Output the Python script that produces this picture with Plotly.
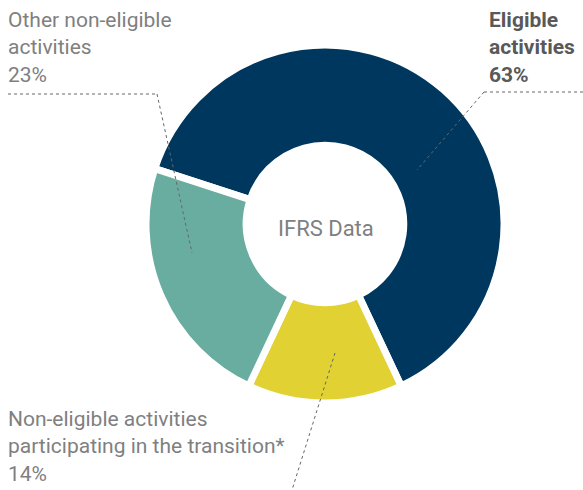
import plotly.graph_objects as go

W, H = 583, 490

labels = ["Eligible activities", "Non-eligible activities participating in the transition*", "Other non-eligible activities"]
values = [63, 14, 23]
colors = ["#00375f", "#e1d133", "#69ada1"]
center_label = "IFRS Data"

def px(x):
    return x / W

def py(y):
    return 1 - y / H

cx, cy, R = 325, 224, 179

fig = go.Figure()
fig.add_trace(go.Pie(
    labels=labels, values=values, sort=False, direction="clockwise",
    rotation=288, hole=0.44,
    marker=dict(colors=colors, line=dict(color="white", width=7)),
    textinfo="none", hoverinfo="label+percent", showlegend=False,
    domain=dict(x=[px(cx - R), px(cx + R)], y=[py(cy + R), py(cy - R)]),
))

font_family = "Roboto, 'Open Sans', sans-serif"
grey = "#808080"

annotations = [
    dict(x=px(6), y=py(6), xanchor="left", yanchor="top", align="left",
         text=f"{labels[2].replace(' activities','<br>activities')}<br>{values[2]}%",
         font=dict(size=21, color=grey, family=font_family)),
    dict(x=px(577), y=py(6), xanchor="right", yanchor="top", align="left",
         text=f"<b>Eligible<br>activities<br>{values[0]}%</b>",
         font=dict(size=21, color="#595959", family=font_family)),
    dict(x=px(6), y=py(405), xanchor="left", yanchor="top", align="left",
         text=f"Non-eligible activities<br>participating in the transition*<br>{values[1]}%",
         font=dict(size=21, color=grey, family=font_family)),
    dict(x=px(cx + 1), y=py(228), xanchor="center", yanchor="middle",
         text=center_label, font=dict(size=22, color=grey, family=font_family)),
]
for a in annotations:
    a.update(xref="paper", yref="paper", showarrow=False)

line = dict(color="#666666", width=1, dash="dot")
segments = [
    ((8, 94), (157, 94)), ((157, 94), (192, 253)),
    ((484, 92), (583, 92)), ((484, 92), (417, 170)),
    ((335, 353), (292, 490)),
]
shapes = [dict(type="line", xref="paper", yref="paper",
               x0=px(a[0]), y0=py(a[1]), x1=px(b[0]), y1=py(b[1]), line=line)
          for a, b in segments]

fig.update_layout(
    width=W, height=H, margin=dict(l=0, r=0, t=0, b=0),
    paper_bgcolor="white", plot_bgcolor="white",
    annotations=annotations, shapes=shapes,
)
fig.write_html("out.html", config={"displayModeBar": False},
               post_script="document.body.style.margin='0';")
